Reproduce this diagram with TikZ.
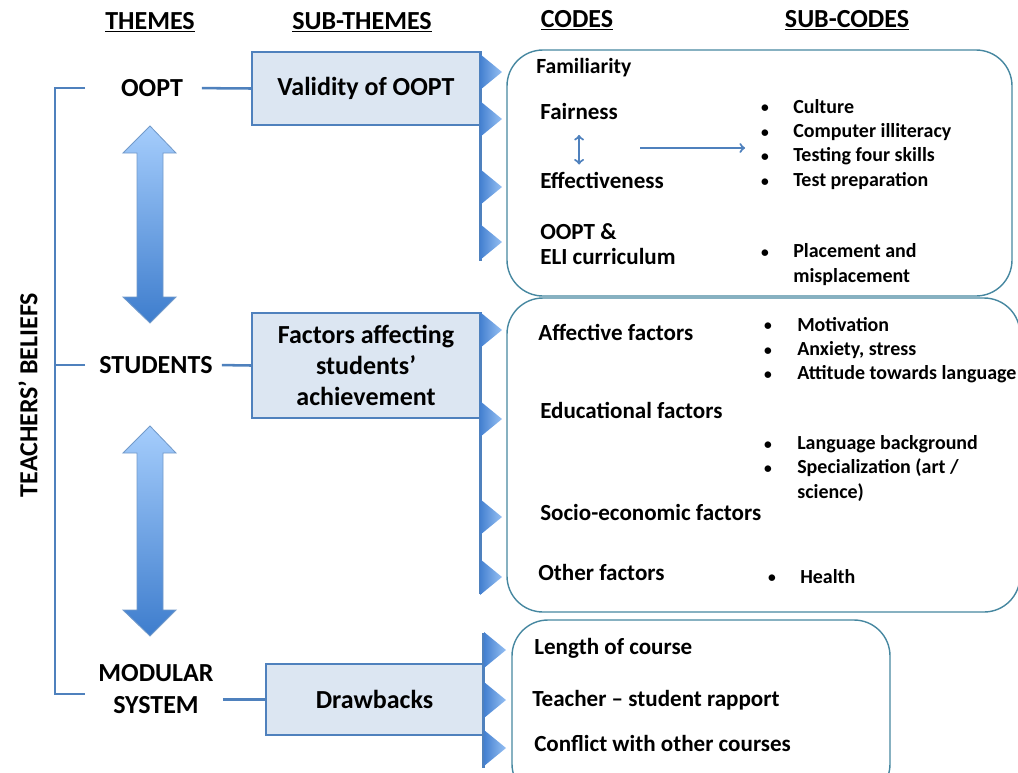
\documentclass[tikz,border=0pt]{standalone}
\usepackage{fontspec}
\setmainfont{Carlito}
\usetikzlibrary{arrows,calc,positioning}
\definecolor{linkblue}{RGB}{79,129,189}
\definecolor{subfill}{RGB}{220,230,242}
\definecolor{codeline}{RGB}{70,135,160}
\definecolor{arrtop}{RGB}{165,205,252}
\definecolor{arrbot}{RGB}{62,125,205}
\definecolor{tridark}{RGB}{68,128,208}
\definecolor{trilight}{RGB}{150,192,243}
\tikzset{
  head/.style={font=\fontsize{18.5}{21}\selectfont\bfseries},
  theme/.style={font=\fontsize{18.5}{22.5}\selectfont\bfseries,align=center},
  subtheme/.style={draw=linkblue,line width=1.2pt,fill=subfill,align=center,
    font=\fontsize{18.5}{22}\selectfont\bfseries},
  link/.style={draw=linkblue,line width=1.8pt},
  strip/.style={draw=linkblue,line width=2pt},
  tri/.style={left color=tridark,right color=trilight},
  bigarrow/.style={top color=arrtop,bottom color=arrbot,draw=linkblue!80,line width=0.6pt},
  codebox/.style={draw=codeline,line width=1pt,rounded corners=0.9cm},
  code/.style={anchor=west,inner sep=0pt,align=left,
    font=\fontsize{16.4}{17.7}\selectfont\bfseries},
  subcode/.style={anchor=west,inner sep=0pt,align=left,
    font=\fontsize{14.2}{17.3}\selectfont\bfseries},
  bullet/.style={inner sep=0pt,yshift=-1.5pt,font=\fontsize{11}{13}\selectfont\bfseries}
}
\begin{document}
\begin{tikzpicture}[x=0.025cm,y=-0.025cm]
\useasboundingbox (0,0) rectangle (1018,772);
%column heads
\node[head] (hthemes) at (150,22) {\underline{THEMES}};
\node[head] (hsub) at (362,22) {\underline{SUB-THEMES}};
\node[head] (hcodes) at (577,20) {\underline{CODES}};
\node[head] (hsubcodes) at (847,20) {\underline{SUB-CODES}};
%themes
\node[theme] (oopt) at (152,88) {OOPT};
\node[theme] (stud) at (156,365) {STUDENTS};
\node[theme] (mod) at (156,689) {MODULAR\\SYSTEM};
\node[theme,rotate=90] (belief) at (28,395) {TEACHERS’ BELIEFS};
%bracket
\coordinate (b1) at (85,88);
\coordinate (b2) at (85,365);
\coordinate (b3) at (85,694);
\draw[link] (b1) -- ++(-30,0) |- (b3);
\draw[link] (b2) -- ++(-30,0);
%double arrows
\foreach \a/\b in {126/323,426/636}
  \path[bigarrow] (137,\a+27) -- (123,\a+27) -- (150,\a) -- (176,\a+27) -- (163,\a+27)
    -- (163,\b-26) -- (176,\b-26) -- (150,\b) -- (123,\b-26) -- (137,\b-26) -- cycle;
%sub-themes
\node[subtheme,minimum width=5.7cm,minimum height=1.825cm] (valid) at (366,88.5) {Validity of OOPT};
\node[subtheme,minimum width=5.7cm,minimum height=2.625cm] (fact) at (366,365.5) {Factors affecting\\students’\\achievement};
\node[subtheme,minimum width=5.425cm,minimum height=1.775cm] (drawb) at (374.5,699.5) {Drawbacks};
\draw[link,shorten <=10pt] (oopt.east) -- (valid.west);
\draw[link,shorten <=3pt] (stud.east) -- (fact.west);
\draw[link,shorten <=3pt] (mod.east |- drawb.west) -- (drawb.west);
%strips with markers
\draw[strip] (valid.north east) -- ++(0,210);
\draw[strip] (fact.north east) -- ++(0,282);
\draw[strip] ($(drawb.east)+(0,-67)$) -- ($(drawb.east)+(0,68)$);
\foreach \y in {72,119,187,242,330,419,517,577}
  \path[tri] (480,\y-18) -- (502,\y) -- (480,\y+18) -- cycle;
\foreach \y in {650,700,748}
  \path[tri] (484,\y-18) -- (506,\y) -- (484,\y+18) -- cycle;
%code boxes
\draw[codebox] (507,50) rectangle (1012,296);
\draw[codebox] (507,298) rectangle (1020,612);
\draw[codebox] (512,620) rectangle (890,800);
%codes
\node[code,font=\fontsize{15.4}{17}\selectfont\bfseries] (fam) at (536,68) {Familiarity};
\node[code] (fair) at (540,111) {Fairness};
\node[code] (eff) at (540,180) {Effectiveness};
\node[code] (eli) at (540,244.5) {OOPT \&\\ELI curriculum};
\draw[linkblue,line width=1.5pt,<->,shorten <=11pt,shorten >=5pt] (fair.south) -- (fair.south |- eff.north);
\coordinate (p1) at (640,148);
\coordinate (p2) at (745,148);
\draw[linkblue,line width=1.5pt,->] (p1) -- (p2);
\node[code] (affect) at (538,332) {Affective factors};
\node[code] (educ) at (540,410) {Educational factors};
\node[code] (socio) at (540,512) {Socio-economic factors};
\node[code] (other) at (538,572) {Other factors};
\node[code] (length) at (534,648) {Length of course};
\node[code] (rapport) at (532,700) {Teacher -- student rapport};
\node[code] (conflict) at (534,743) {Conflict with other courses};
%sub-codes
\foreach \t/\y [count=\i] in {Culture/107,Computer illiteracy/132,Testing four skills/156,Test preparation/181}
{
  \node[bullet] (bo\i) at (765,\y) {\textbullet};
  \node[subcode] (so\i) at (793,\y) {\t};
}
\node[bullet] (bplace) at (765,252) {\textbullet};
\node[subcode] (place) at (793,264.5) {Placement and\\misplacement};
\foreach \t/\y [count=\i] in {Motivation/325,{Anxiety, stress}/350,Attitude towards language/374}
{
  \node[bullet] (ba\i) at (768,\y) {\textbullet};
  \node[subcode] (sa\i) at (797,\y) {\t};
}
\node[bullet] (blang) at (768,444) {\textbullet};
\node[subcode] (lang) at (797,444) {Language background};
\node[bullet] (bspec) at (768,468) {\textbullet};
\node[subcode] (spec) at (797,480) {Specialization (art /\\science)};
\node[bullet] (bhealth) at (772,577) {\textbullet};
\node[subcode] (health) at (800,577) {Health};
\end{tikzpicture}
\end{document}
